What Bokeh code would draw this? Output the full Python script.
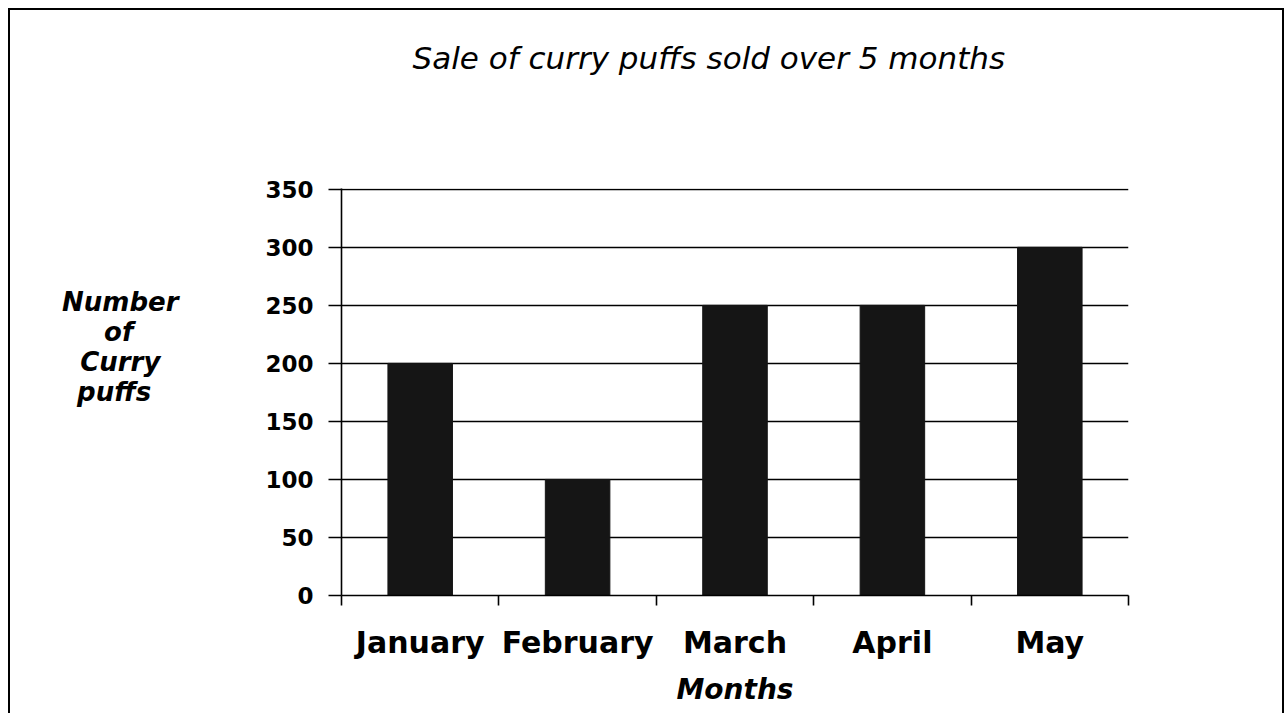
from bokeh.plotting import figure
from bokeh.models import FixedTicker, Range1d, ColumnDataSource, Title
from bokeh.embed import file_html
from bokeh.resources import INLINE

months = ["January", "February", "March", "April", "May"]
puffs_sold = [200, 100, 250, 250, 300]
y_ticks = [0, 50, 100, 150, 200, 250, 300, 350]

title_text = "Sale of curry puffs sold over 5 months"
x_title = "Months"
NB = "\u00a0"
y_title_lines = ["Number", "of" + NB * 5, "Curry" + NB * 2, "puffs" + NB * 3, NB, NB, NB]
y_title = "\n".join(y_title_lines)

positions = list(range(1, len(months) + 1))
boundaries = [i - 0.5 for i in range(1, len(months) + 2)]

src = ColumnDataSource(dict(x=positions, top=puffs_sold, month=months))

p = figure(width=1276, height=708, output_backend="svg", toolbar_location=None,
           x_range=Range1d(0.5, len(months) + 0.5),
           y_range=Range1d(0, max(y_ticks) * 1.002),
           min_border_left=331, min_border_right=158, min_border_top=178,
           min_border_bottom=123)
p.styles = {"border": "2px solid #000", "box-sizing": "border-box",
            "margin": "8px 0 0 8px"}
p.outline_line_color = None
p.background_fill_color = "white"
p.border_fill_color = "white"

p.vbar(x="x", top="top", bottom=0, width=0.41, source=src,
       fill_color="#151515", line_color="#151515")

# spacer between title and frame
spacer = Title(text=NB, text_font_size="10px", standoff=100)
p.add_layout(spacer, "above")

# title
p.title.text = title_text
p.title.text_font = "DejaVu Sans"
p.title.text_font_style = "italic"
p.title.text_font_size = "31px"
p.title.text_color = "black"
p.title.align = "left"
p.title.offset = 71
p.title.standoff = 0

# grid
p.xgrid.visible = False
p.ygrid.ticker = FixedTicker(ticks=y_ticks)
p.ygrid.grid_line_color = "black"
p.ygrid.grid_line_width = 1.6

# y axis
p.yaxis.ticker = FixedTicker(ticks=y_ticks)
p.yaxis.axis_line_color = "black"
p.yaxis.axis_line_width = 1.6
p.yaxis.major_tick_line_color = "black"
p.yaxis.major_tick_line_width = 1.6
p.yaxis.major_tick_out = 13
p.yaxis.major_tick_in = 0
p.yaxis.minor_tick_line_color = None
p.yaxis.major_label_standoff = 15
p.yaxis.major_label_text_font = "DejaVu Sans"
p.yaxis.major_label_text_font_style = "bold"
p.yaxis.major_label_text_font_size = "23px"
p.yaxis.major_label_text_color = "black"
p.yaxis.axis_label = y_title
p.yaxis.axis_label_orientation = "horizontal"
p.yaxis.axis_label_text_font = "DejaVu Sans"
p.yaxis.axis_label_text_font_style = "bold italic"
p.yaxis.axis_label_text_font_size = "26px"
p.yaxis.axis_label_text_line_height = 1.0
p.yaxis.axis_label_text_color = "black"
p.yaxis.axis_label_standoff = 84

# x axis
p.xaxis.ticker = FixedTicker(ticks=positions, minor_ticks=boundaries)
p.xaxis.major_label_overrides = {pos: m for pos, m in zip(positions, months)}
p.xaxis.axis_line_color = "black"
p.xaxis.axis_line_width = 1.6
p.xaxis.major_tick_line_color = None
p.xaxis.major_tick_out = 0
p.xaxis.major_tick_in = 0
p.xaxis.minor_tick_line_color = "black"
p.xaxis.minor_tick_line_width = 1.6
p.xaxis.minor_tick_out = 10
p.xaxis.minor_tick_in = 0
p.xaxis.major_label_standoff = 19
p.xaxis.major_label_text_font = "DejaVu Sans"
p.xaxis.major_label_text_font_style = "bold"
p.xaxis.major_label_text_font_size = "30px"
p.xaxis.major_label_text_color = "black"
p.xaxis.axis_label = x_title
p.xaxis.axis_label_text_font = "DejaVu Sans"
p.xaxis.axis_label_text_font_style = "bold italic"
p.xaxis.axis_label_text_font_size = "28px"
p.xaxis.axis_label_text_color = "black"
p.xaxis.axis_label_standoff = 10

open("out.html", "w").write(file_html(p, INLINE))
